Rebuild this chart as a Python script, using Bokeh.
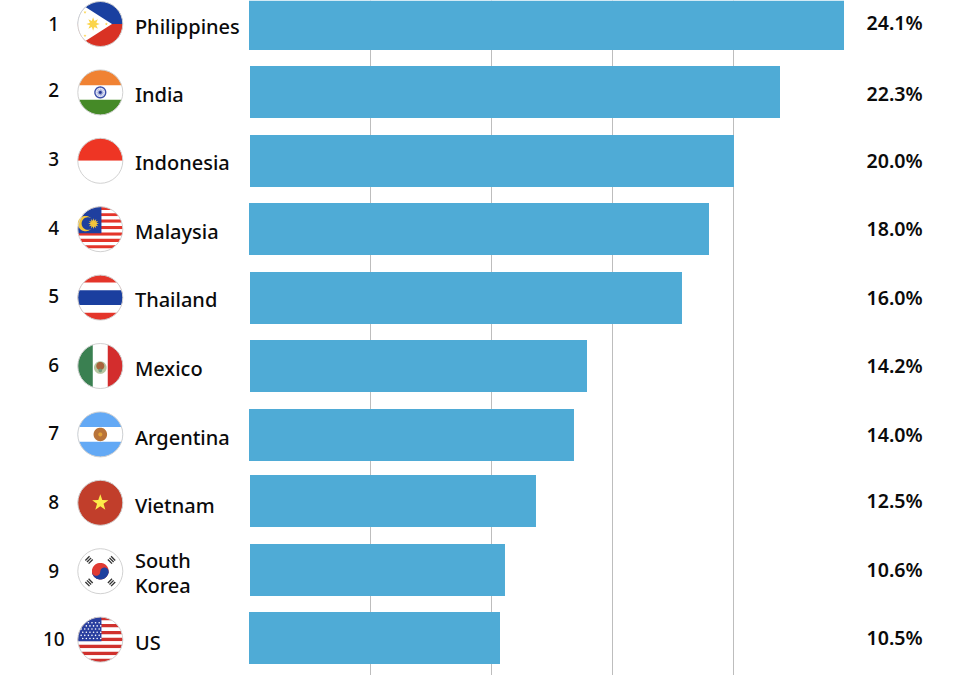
import numpy as np
from bokeh.plotting import figure
from bokeh.models import Range1d, FixedTicker, ColumnDataSource
from bokeh.core.properties import value, field
from bokeh.embed import file_html
from bokeh.resources import INLINE

ranks = [1, 2, 3, 4, 5, 6, 7, 8, 9, 10]
countries = ["Philippines", "India", "Indonesia", "Malaysia", "Thailand",
             "Mexico", "Argentina", "Vietnam", "South Korea", "US"]
value_labels = ["24.1%", "22.3%", "20.0%", "18.0%", "16.0%",
                "14.2%", "14.0%", "12.5%", "10.6%", "10.5%"]
# bar lengths as drawn in the picture, on the scale of its gridlines
bar_lengths = [24.587, 21.942, 20.041, 19.008, 17.892, 13.967, 13.429, 11.859, 10.578, 10.372]
grid_values = [5, 10, 15, 20]

PX_PER_UNIT = 24.2
X0 = 248.5
ROW_PX = 68.4
ROW0 = 23.5
BAR_PX = 52
BLUE = "#4fabd6"
TEXT = "#0b0b0b"

row_y = lambda r: ROW0 + ROW_PX * (r - 1) + 1

p = figure(width=970, height=675, output_backend="svg", toolbar_location=None,
           min_border=0, outline_line_color=None, background_fill_color="white",
           x_range=Range1d(-X0 / PX_PER_UNIT, (970 - X0) / PX_PER_UNIT),
           y_range=Range1d(1 + (675 - ROW0) / ROW_PX, 1 - ROW0 / ROW_PX))
p.extra_x_ranges["px"] = Range1d(1, 971)
p.extra_y_ranges["px"] = Range1d(676, 1)
p.xaxis.visible = False
p.yaxis.visible = False
p.ygrid.visible = False
p.xgrid.ticker = FixedTicker(ticks=grid_values)
p.xgrid.grid_line_color = "#bdbdbd"
p.xgrid.grid_line_width = 1

# bars: small per-row pixel nudges seen in the picture
bar_dy = [0.0, -0.4, 0.2, -0.2, 0.4, 0.0, 0.6, -1.8, -1.2, -1.6]
bar_dx = [0.0, 1.0, 1.0, 0.0, 1.0, 1.0, 0.0, 1.0, 1.0, 0.0]
p.hbar(y=[r + d / ROW_PX for r, d in zip(ranks, bar_dy)],
       left=[d / PX_PER_UNIT for d in bar_dx],
       right=bar_lengths, height=BAR_PX / ROW_PX, color=BLUE, line_color=None)

# ---------- flags, drawn in unit circle space ----------
circle = np.column_stack([np.cos(np.linspace(0, 2 * np.pi, 96, endpoint=False)),
                          np.sin(np.linspace(0, 2 * np.pi, 96, endpoint=False))])

def clip(poly, conv):
    out = [tuple(q) for q in poly]
    n = len(conv)
    area = sum(conv[i][0] * conv[(i + 1) % n][1] - conv[(i + 1) % n][0] * conv[i][1] for i in range(n))
    sgn = 1 if area > 0 else -1
    for i in range(n):
        a, b = conv[i], conv[(i + 1) % n]
        side = lambda q: sgn * ((b[0] - a[0]) * (q[1] - a[1]) - (b[1] - a[1]) * (q[0] - a[0]))
        inp, out = out, []
        for j, q in enumerate(inp):
            pr = inp[j - 1]
            sq, sp = side(q), side(pr)
            if (sq >= 0) != (sp >= 0):
                t = sp / (sp - sq)
                out.append((pr[0] + t * (q[0] - pr[0]), pr[1] + t * (q[1] - pr[1])))
            if sq >= 0:
                out.append(q)
        if not out:
            break
    return out

def rect(x0, y0, x1, y1):
    return [(x0, y0), (x1, y0), (x1, y1), (x0, y1)]

def disc(cx, cy, r):
    return [(cx + r * c, cy + r * s) for c, s in circle]

def star(cx, cy, r, points=5, inner=0.4, rot=-np.pi / 2):
    res = []
    for k in range(points * 2):
        rr = r if k % 2 == 0 else r * inner
        a = rot + k * np.pi / points
        res.append((cx + rr * np.cos(a), cy + rr * np.sin(a)))
    return res

def bar_rot(cx, cy, l, t, ang):
    c, s = np.cos(ang), np.sin(ang)
    return [(cx + u * c - v * s, cy + u * s + v * c)
            for u, v in [(-l, -t), (l, -t), (l, t), (-l, t)]]

def stripes(n, first, second, y_start=-1.0, y_end=1.0):
    step = (y_end - y_start) / n
    return [(rect(-1.1, y_start + i * step, 1.1, y_start + (i + 1) * step),
             first if i % 2 == 0 else second) for i in range(n)]

RED, NAVY, YEL = "#e4352a", "#1c409f", "#fbd54c"
flags = {}
flags[1] = [(rect(-1.1, -1.1, 1.1, 0), "#1a40a0"), (rect(-1.1, 0, 1.1, 1.1), "#d93224"),
            ([(-1.05, -1.0), (0.52, 0), (-1.05, 1.0)], "#ffffff"),
            (star(-0.32, 0, 0.3, 8, 0.5), YEL), (disc(-0.32, 0, 0.15), YEL),
            (star(-0.68, -0.52, 0.07), YEL), (star(-0.68, 0.52, 0.07), YEL), (star(0.27, 0, 0.07), YEL)]
flags[2] = [(rect(-1.1, -1.1, 1.1, -0.31), "#f08233"), (rect(-1.1, -0.31, 1.1, 0.33), "#ffffff"),
            (rect(-1.1, 0.33, 1.1, 1.1), "#458a27"),
            (disc(0, 0, 0.27), "#3a4ea8"), (disc(0, 0, 0.21), "#dfe3f3"), (star(0, 0, 0.2, 12, 0.35), "#7c88c8"), (disc(0, 0, 0.06), "#24348f")]
flags[3] = [(rect(-1.1, -1.1, 1.1, 0), "#ee3524"), (rect(-1.1, 0, 1.1, 1.1), "#ffffff")]
flags[4] = stripes(14, RED, "#ffffff") + [(rect(-1.1, -1.1, 0.05, 0.18), "#1f3f9f"),
            (disc(-0.66, -0.25, 0.34), "#f3c53a"), (disc(-0.55, -0.25, 0.28), "#1f3f9f"),
            (star(-0.3, -0.25, 0.24, 12, 0.55), "#f3c53a")]
flags[5] = [(rect(-1.1, -1.1, 1.1, 1.1), RED), (rect(-1.1, -0.67, 1.1, 0.67), "#ffffff"),
            (rect(-1.1, -0.33, 1.1, 0.33), "#1a3f9f")]
flags[6] = [(rect(-1.1, -1.1, -0.33, 1.1), "#3a8051"), (rect(-0.33, -1.1, 0.33, 1.1), "#ffffff"),
            (rect(0.33, -1.1, 1.1, 1.1), "#d32d2d"),
            (disc(0, 0.07, 0.28), "#b5c6a0"), (disc(0, 0.0, 0.18), "#a8643c"), (disc(0, 0.2, 0.08), "#6f9a7a")]
flags[7] = [(rect(-1.1, -1.1, 1.1, 1.1), "#63a9f5"), (rect(-1.1, -0.33, 1.1, 0.33), "#ffffff"),
            (disc(0, 0, 0.3), "#b9743a"), (disc(0, 0, 0.09), "#e2a33a")]
flags[8] = [(rect(-1.1, -1.1, 1.1, 1.1), "#c13e2b"), (star(0, 0, 0.38), "#fdec4a")]
kor = [(rect(-1.1, -1.1, 1.1, 1.1), "#ffffff"), (disc(0, 0, 0.37), "#e03a33"),
       (clip(disc(0, 0, 0.37), rect(-0.5, 0.02, 0.5, 0.5)), "#1f3f9f"),
       (disc(-0.185, 0.02, 0.185), "#e03a33"), (disc(0.185, 0.02, 0.185), "#1f3f9f")]
for sx_, sy_ in [(-1, -1), (1, -1), (-1, 1), (1, 1)]:
    ang = np.pi / 4 if sx_ * sy_ < 0 else -np.pi / 4
    for k in (-0.1, 0, 0.1):
        nx, ny = np.cos(ang + np.pi / 2), np.sin(ang + np.pi / 2)
        kor.append((bar_rot(sx_ * 0.5 + k * nx, sy_ * 0.5 + k * ny, 0.13, 0.03, ang), "#333333"))
flags[9] = kor
flags[10] = stripes(13, "#d0312d", "#ffffff") + [(rect(-1.1, -1.1, 0.05, 0.07), "#2a3f9f")]

FLAG_X, FLAG_R = 100.8, 22.5
xs, ys, cols = [], [], []
for r in ranks:
    cy = row_y(r)
    for shape, col in flags[r]:
        poly = clip(circle, shape) if len(shape) <= 4 else shape
        if not poly:
            continue
        xs.append([FLAG_X + FLAG_R * q[0] for q in poly])
        ys.append([cy + FLAG_R * q[1] for q in poly])
        cols.append(col)
p.patches(xs, ys, fill_color=cols, line_color=None, x_range_name="px", y_range_name="px")

sx, sy = [], []
for j, yy in enumerate(np.arange(-0.75, 0.05, 0.14)):
    for xx in np.arange(-0.85 + 0.07 * (j % 2), 0.03, 0.16):
        if xx * xx + yy * yy < 0.97:
            sx.append(FLAG_X + FLAG_R * xx)
            sy.append(row_y(10) + FLAG_R * yy)
p.scatter(sx, sy, size=1.6, color="#ffffff", line_color=None, x_range_name="px", y_range_name="px")

p.circle(x=[FLAG_X] * 10, y=[row_y(r) for r in ranks], radius=FLAG_R, fill_color=None,
         line_color="#d2d2d2", line_width=1, x_range_name="px", y_range_name="px")

# ---------- text ----------
FONT = value("Noto Sans")
rank_dy = [-0.5, -2.9, -2.3, -1.7, -2.1, -1.5, -1.9, -1.3, -0.7, -1.1]
src = ColumnDataSource(dict(x=[54.3] * 10, y=ranks, t=[str(r) for r in ranks], d=rank_dy, w=["500"] * 10))
p.text(x="x", y="y", text="t", y_offset="d", source=src,
       x_range_name="px", text_font=FONT, text_font_size="19px", text_align="center",
       text_font_style=field("w"), text_baseline="middle", text_color=TEXT)

lab_dx, lab_y, lab_t = [], [], []
lab_dy = [2.5, 2.1, 1.7, 2.3, 1.9, 2.5, 3.1, 2.7, None, 2.9]
for r, name, d in zip(ranks, countries, lab_dy):
    if " " in name:
        a, b = name.split(" ")
        lab_t += [a, b]; lab_y += [r, r]; lab_dx += [-10.7, 14.3]
    else:
        lab_t.append(name); lab_y.append(r); lab_dx.append(d)
src = ColumnDataSource(dict(x=[135.4] * len(lab_t), y=lab_y, t=lab_t, d=lab_dx, w=["500"] * len(lab_t)))
p.text(x="x", y="y", text="t", y_offset="d", source=src, x_range_name="px",
       text_font=FONT, text_font_size="20px", text_baseline="middle", text_color=TEXT,
       text_font_style=field("w"))

val_dy = [-1.5, 1.1, -0.3, -0.7, -0.1, -0.5, 0.1, -2.3, -1.7, -2.1]
src = ColumnDataSource(dict(x=[867] * 10, y=ranks, t=value_labels, d=val_dy, w=["600"] * 10))
p.text(x="x", y="y", text="t", y_offset="d", source=src, x_range_name="px",
       text_font=FONT, text_font_style=field("w"), text_font_size="19.6px", text_baseline="middle",
       text_color=TEXT)

open("out.html", "w").write(file_html(p, INLINE))
